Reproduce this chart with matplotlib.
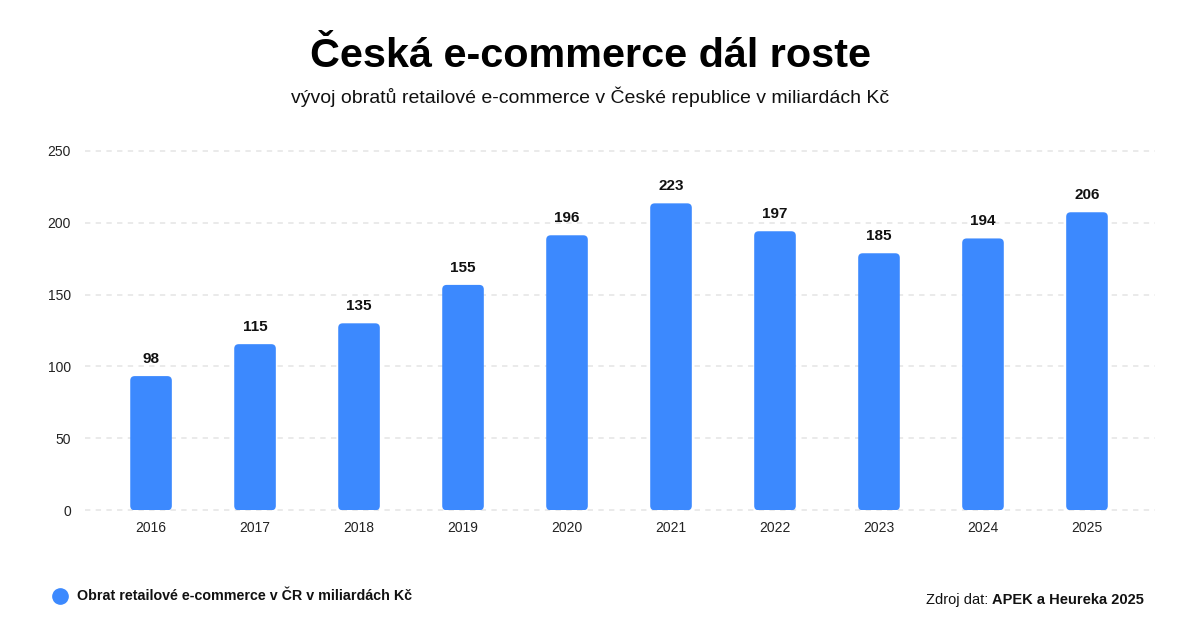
import matplotlib
matplotlib.use("Agg")
import matplotlib.pyplot as plt
from matplotlib.patches import FancyBboxPatch
from matplotlib.lines import Line2D

# data
years = ["2016", "2017", "2018", "2019", "2020", "2021", "2022", "2023", "2024", "2025"]
values = [98, 115, 135, 155, 196, 223, 197, 185, 194, 206]           # printed labels
bar_heights = [93.3, 115.5, 130, 156.7, 191.2, 213.4, 194, 178.7, 189, 207.2]  # as drawn
yticks = [0, 50, 100, 150, 200, 250]
series_name = "Obrat retailové e-commerce v ČR v miliardách Kč"

blue = "#3C89FE"
font = "Liberation Sans"
plt.rcParams["font.family"] = [font, "DejaVu Sans"]

W, H = 1200, 628
fig = plt.figure(figsize=(W / 100, H / 100), dpi=100)
fig.patch.set_facecolor("white")
ax = fig.add_axes([85 / W, 1 - 510.3 / H, (1155 - 85) / W, (510.3 - 150.7) / H])

x = list(range(len(years)))
bars = ax.bar(x, bar_heights, width=0.4, color=blue, zorder=3)

ax.set_xlim(-0.635, 9.654)
ax.set_ylim(0, 250)

# swap plain rectangles for rounded ones
px_x = (1155 - 85) / (9.654 + 0.635)   # px per x unit
px_y = (510.3 - 150.7) / 250            # px per y unit
radius = 4.5
for b in bars:
    b.set_visible(False)
    p = FancyBboxPatch((b.get_x(), 0), b.get_width(), b.get_height(),
                       boxstyle="round,pad=0,rounding_size=%f" % (radius / px_x),
                       mutation_aspect=px_x / px_y,
                       facecolor=blue, edgecolor="none", zorder=3)
    ax.add_patch(p)

for xi, h, v in zip(x, bar_heights, values):
    ax.annotate(str(v), (xi, h), xytext=(0, 12.3), textcoords="offset points",
                ha="center", va="center", fontsize=11, fontweight="bold", color="#111111")

ax.set_yticks(yticks)
ax.set_xticks(x)
ax.set_xticklabels(years)
ax.tick_params(axis="both", length=0, labelsize=10, colors="#222222")
ax.tick_params(axis="y", pad=10)
ax.tick_params(axis="x", pad=8)
ax.grid(axis="y", color="#e4e4e4", linestyle=(0, (3.5, 3.5)), linewidth=1.1, zorder=0)
ax.set_axisbelow(True)
for s in ax.spines.values():
    s.set_visible(False)
for gl in ax.get_ygridlines():
    gl.set_clip_on(False)

fig.text(590 / W, 1 - 56 / H, "Česká e-commerce dál roste", ha="center", va="center",
         fontsize=29.8, fontweight="bold", color="black")
fig.text(590 / W, 1 - 97 / H, "vývoj obratů retailové e-commerce v České republice v miliardách Kč",
         ha="center", va="center", fontsize=14, color="#111111")

# legend
fig.add_artist(Line2D([60 / W], [1 - 595.5 / H], marker="o", markersize=11, color=blue,
                      linestyle="", transform=fig.transFigure))
fig.text(77 / W, 1 - 595.5 / H, series_name, ha="left", va="center",
         fontsize=10.3, fontweight="bold", color="#111111")

# source
src = fig.text(1144 / W, 1 - 600 / H, "APEK a Heureka 2025", ha="right", va="center",
               fontsize=10.5, fontweight="bold", color="#111111")
ax.annotate("Zdroj dat: ", xy=(0, 0.5), xycoords=src, ha="right", va="center",
            fontsize=10.5, color="#111111", annotation_clip=False)

fig.savefig("out.png", dpi=100)
